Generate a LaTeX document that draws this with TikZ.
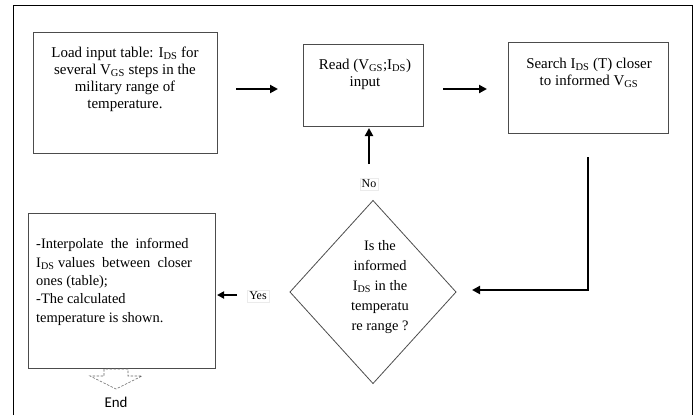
\documentclass[tikz,border=0pt]{standalone}
\usepackage{fontspec}
\setmainfont{Liberation Serif}
\newfontfamily\endfont{Carlito}
\usetikzlibrary{shapes.geometric,arrows.meta}
\tikzset{
  x=1bp, y=-1bp,
  box/.style={draw=black!70, line width=0.8bp, inner sep=0pt, outer sep=0pt, anchor=north west},
  txt/.style={inner sep=0pt, font=\fontsize{15}{17}\selectfont},
  arr/.style={line width=2.2bp, -{Triangle[length=8bp,width=8bp]}},
  lbl/.style={fill=white, draw=black!8, inner sep=2bp, font=\fontsize{12}{14}\selectfont},
}
\begin{document}
\begin{tikzpicture}
\useasboundingbox (0,0) rectangle (699,415);
% frame
\draw[line width=1bp] (13,415) -- (13,5) -- (692,5) -- (692,415);
% boxes
\node[box, minimum width=184bp, minimum height=121bp] (b1) at (33,32) {};
\node[box, minimum width=120bp, minimum height=82bp] (b2) at (303,44) {};
\node[box, minimum width=160bp, minimum height=91bp] (b3) at (508,42) {};
\node[box, minimum width=187bp, minimum height=155bp] (b4) at (28,213) {};
\node[draw=black!70, line width=0.8bp, diamond, inner sep=0pt, outer sep=0pt,
      minimum width=166bp, minimum height=183bp] (d) at (373,292) {};
% texts
\node[txt, align=center] (t1) at (125,79) {Load input table: I\textsubscript{DS} for\\several V\textsubscript{GS} steps in the\\military range of\\temperature.};
\node[txt, align=center] (t2) at (365,74) {Read (V\textsubscript{GS};I\textsubscript{DS})\\input};
\node[txt, align=center] (t3) at (589,73) {Search I\textsubscript{DS} (T) closer\\to informed V\textsubscript{GS}};
\node[txt, align=left, anchor=west, font=\fontsize{14.5}{18.5}\selectfont] (t4) at (36,282) {-Interpolate\ \ the\ \ informed\\I\textsubscript{DS} values\ \ between\ \ closer\\ones (table);\\-The calculated\\temperature is shown.};
\node[txt, align=center, font=\fontsize{14.5}{20.3}\selectfont] (td) at (380,287) {Is the\\informed\\I\textsubscript{DS} in the\\temperatu\\re range ?};
% labels
\node[lbl] (no) at (369,184) {No};
\node[lbl] (yes) at (258,296) {Yes};
% connector points
\coordinate (a1s) at (236,89); \coordinate (a1e) at (278,89);
\coordinate (a2s) at (443,89); \coordinate (a2e) at (487,89);
\coordinate (a3s) at (588,157); \coordinate (a3c) at (588,290); \coordinate (a3e) at (472,290);
\coordinate (a4s) at (369,164); \coordinate (a4e) at (369,128);
\coordinate (a5s) at (237,295); \coordinate (a5e) at (217,295);
\draw[arr] (a1s) -- (a1e);
\draw[arr] (a2s) -- (a2e);
\draw[arr] (a3s) -- (a3c) -- (a3e);
\draw[arr] (a4s) -- (a4e);
\draw[arr, -{Triangle[length=7bp,width=7bp]}] (a5s) -- (a5e);
% end block arrow
\draw[black!60, line width=0.6bp, dash pattern=on 2.5bp off 1.5bp]
  (104,369) -- (104,376) -- (90,376) -- (116,389) -- (142,376) -- (128,376) -- (128,369) -- cycle;
\node[inner sep=0pt, font=\endfont\fontsize{15}{17}\selectfont] (endt) at (116,402) {End};
\end{tikzpicture}
\end{document}
